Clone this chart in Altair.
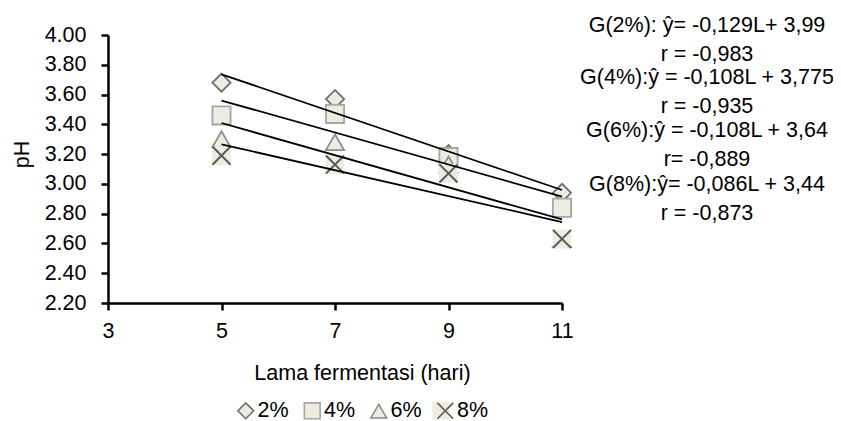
import altair as alt
import pandas as pd

# ---- data ----
days = [5, 7, 9, 11]
series = ["2%", "4%", "6%", "8%"]
ph_2 = [3.68, 3.57, 3.20, 2.94]
ph_4 = [3.46, 3.47, 3.18, 2.84]
ph_6 = [3.30, 3.28, 3.13, 2.63]
ph_8 = [3.19, 3.13, 3.07, 2.63]
x_ticks = [3, 5, 7, 9, 11]
y_ticks = [2.2, 2.4, 2.6, 2.8, 3.0, 3.2, 3.4, 3.6, 3.8, 4.0]
equations = [
    "G(2%): ŷ= -0,129L+ 3,99\nr = -0,983",
    "G(4%):ŷ = -0,108L + 3,775\nr = -0,935",
    "G(6%):ŷ = -0,108L + 3,64\nr= -0,889",
    "G(8%):ŷ= -0,086L + 3,44\nr = -0,873",
]

rows = []
for s, vals in zip(series, [ph_2, ph_4, ph_6, ph_8]):
    for d, v in zip(days, vals):
        rows.append({"series": s, "bg": "b" + s, "day": d, "ph": v})
df = pd.DataFrame(rows)

FONT = "Liberation Sans"
FS = 21.5
BEIGE = "#eeece1"
shape_range = ["diamond", "square", "triangle-up", "M-1,-1L1,1M1,-1L-1,1"]
fill_range = [BEIGE] * 4
stroke_range = ["#6f6f6f", "#a6a6a6", "#8c8c8c", "#5a5a5a"]

LX, LY = 127, 365
COLPAD = 11.5
LABOFF = 1

def main_legend():
    return alt.Legend(title=None, orient="none", legendX=LX, legendY=LY,
                      direction="horizontal", columns=4, symbolSize=250,
                      symbolStrokeWidth=1.6, labelFont=FONT, labelFontSize=FS,
                      labelColor="black", labelOffset=LABOFF, columnPadding=COLPAD,
                      padding=0, zindex=1)

# beige backing square behind the "x" legend symbol (4th entry of the main legend)
entry_w = FS + LABOFF + (0.556 + 0.889) * FS + COLPAD
bg_legend = alt.Legend(title=None, orient="none", legendX=LX + 3 * entry_w, legendY=LY,
                       values=["b8%"], symbolSize=300, symbolType="square",
                       symbolStrokeWidth=0, labelExpr="''", labelFontSize=FS,
                       labelOffset=0, padding=0, zindex=0)

x_enc = alt.X("day:Q", scale=alt.Scale(domain=[3, 11], nice=False, zero=False),
              axis=alt.Axis(values=x_ticks, format="d", title="Lama fermentasi (hari)",
                            labelPadding=10, titleX=254, titleY=76,
                            titleBaseline="alphabetic", titleAlign="center"))
y_enc = alt.Y("ph:Q", scale=alt.Scale(domain=[2.2, 4.0], nice=False, zero=False),
              axis=alt.Axis(values=y_ticks, format=".2f", title="pH",
                            labelPadding=15, titleAngle=270, titleX=-80, titleY=119,
                            titleBaseline="alphabetic", titleAlign="center"))

shape_enc = alt.Shape("series:N", scale=alt.Scale(domain=series, range=shape_range), legend=main_legend())
fill_enc = alt.Fill("series:N", scale=alt.Scale(domain=series, range=fill_range), legend=main_legend())
stroke_enc = alt.Stroke("series:N", scale=alt.Scale(domain=series, range=stroke_range), legend=main_legend())

base = alt.Chart(df)

pts = base.transform_filter("datum.series != '8%'").mark_point(
    filled=True, opacity=1, size=330, strokeWidth=1.8
).encode(x=x_enc, y=y_enc, shape=shape_enc, fill=fill_enc, stroke=stroke_enc)

bg = base.transform_filter("datum.series == '8%'").mark_point(
    filled=True, opacity=1, size=361, shape="square", strokeWidth=0
).encode(x=x_enc, y=y_enc,
         color=alt.Color("bg:N", scale=alt.Scale(domain=["b" + s for s in series],
                                                 range=["transparent"] * 3 + [BEIGE]),
                         legend=bg_legend))

xs = base.transform_filter("datum.series == '8%'").mark_point(
    filled=True, opacity=1, size=330, strokeWidth=2
).encode(x=x_enc, y=y_enc, shape=shape_enc, fill=fill_enc, stroke=stroke_enc)

lines = base.transform_regression("day", "ph", groupby=["series"]).mark_line(
    color="black", strokeWidth=1.8
).encode(x=x_enc, y=y_enc, detail="series:N")

eq_y = [-9, 43, 96, 150]
eq_layers = []
for t, yv in zip(equations, eq_y):
    eq_layers.append(
        alt.Chart(pd.DataFrame({"t": [t]})).mark_text(
            font=FONT, fontSize=FS, color="black", align="center", baseline="middle",
            lineBreak="\n", lineHeight=29
        ).encode(text="t:N", x=alt.value(599), y=alt.value(yv))
    )

chart = alt.layer(pts, bg, xs, lines, *eq_layers).properties(
    width=454, height=268,
    autosize=alt.AutoSizeParams(type="none"),
    padding={"left": 100, "top": 27, "right": 271, "bottom": 118},
).configure_view(stroke=None).configure_axis(
    grid=False, domainColor="black", domainWidth=2.5, tickColor="black",
    tickWidth=2.5, tickSize=7, labelFont=FONT, labelFontSize=FS, labelColor="black",
    titleFont=FONT, titleFontSize=FS, titleColor="black", titleFontWeight="normal",
    labelFlush=False, labelOverlap=False
)

chart.save("out.html", embed_options={"renderer": "svg", "actions": False})
